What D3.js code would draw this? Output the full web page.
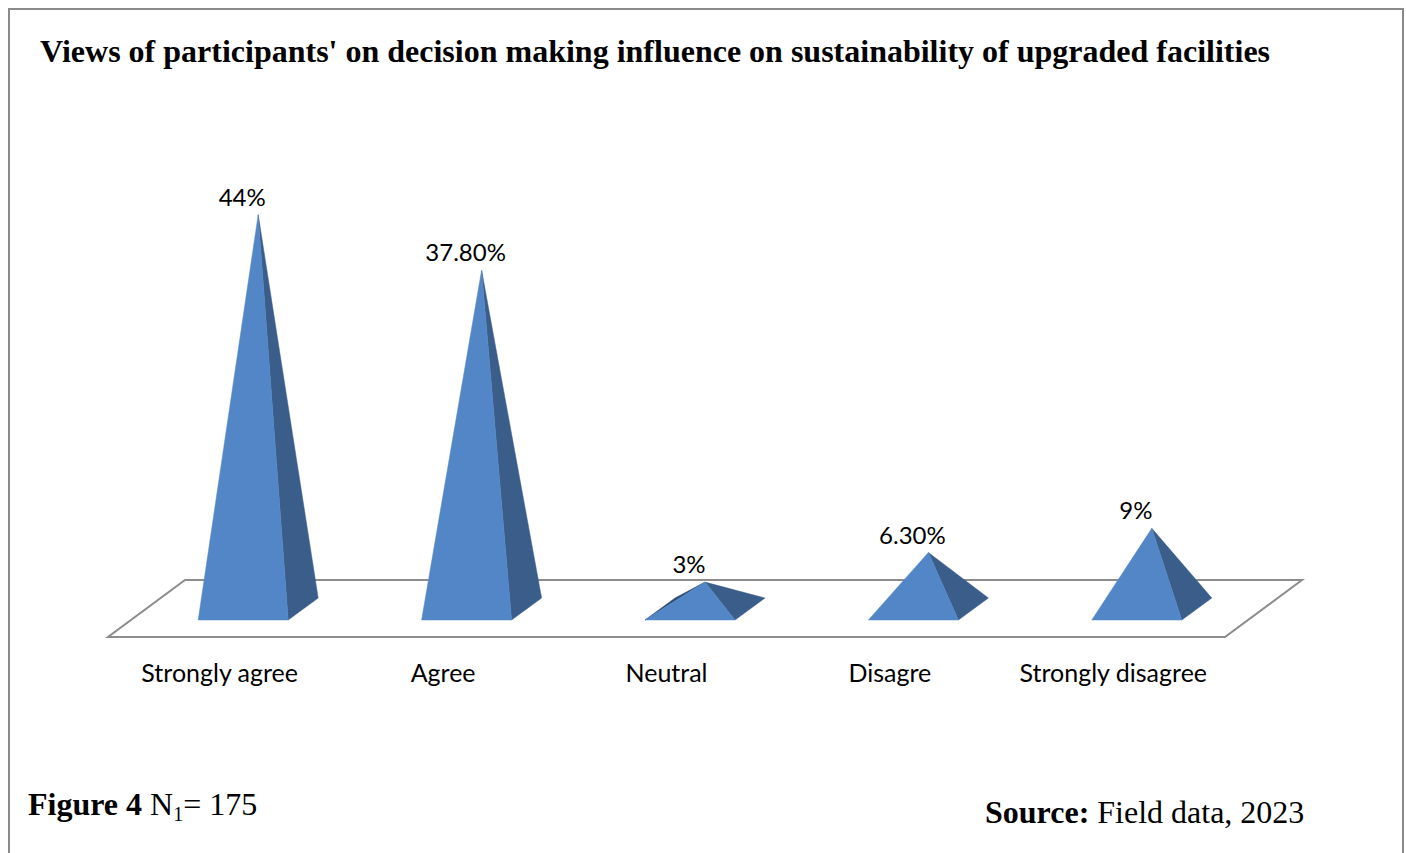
<!DOCTYPE html>
<html>
<head>
<meta charset="utf-8">
<script src="https://cdn.jsdelivr.net/npm/d3@7"></script>
<style>
  html, body { margin: 0; padding: 0; background: #fff; }
  svg { display: block; }
</style>
</head>
<body>
<svg id="chart" width="1406" height="853"></svg>
<script>
// Survey responses (percent of participants)
const categories = ["Strongly agree", "Agree", "Neutral", "Disagre", "Strongly disagree"];
const values = [44, 37.8, 3, 6.3, 9];
const valueLabels = ["44%", "37.80%", "3%", "6.30%", "9%"];

const titleText = "Views of participants' on decision making influence on sustainability of upgraded facilities";

const svg = d3.select("#chart");
const W = 1406, H = 853;

// Outer frame (bottom edge runs off the page)
svg.append("path")
  .attr("d", `M9,${H + 5} L9,9 L1403,9 L1403,${H + 5}`)
  .attr("fill", "none")
  .attr("stroke", "#8a8a8a")
  .attr("stroke-width", 2);

// Title
svg.append("text")
  .attr("x", 40).attr("y", 62)
  .attr("font-family", "'Liberation Serif', 'Times New Roman', serif")
  .attr("font-weight", "bold")
  .attr("font-size", 32)
  .attr("fill", "#000")
  .text(titleText);

// Floor geometry: front edge and depth offset of the 3D plane
const floorFrontY = 637;
const floorX0 = 108, floorX1 = 1225;
const depthDX = 77, depthDY = -57;

const x = d3.scaleBand().domain(categories).range([floorX0, floorX1]);

// Pyramid bases sit at mid-depth of the floor
const baseCY = 609;
const y = d3.scaleLinear().domain([0, 50]).range([baseCY, baseCY - 448]);

// Floor plane
svg.append("path")
  .attr("d", `M${floorX0},${floorFrontY} L${floorX1},${floorFrontY} L${floorX1 + depthDX},${floorFrontY + depthDY} L${floorX0 + depthDX},${floorFrontY + depthDY} Z`)
  .attr("fill", "#fff")
  .attr("stroke", "#8c8c8c")
  .attr("stroke-width", 2);

// Pyramid half extents on screen (width and depth)
const halfW = 45, halfDX = 15, halfDY = 11;

const colors = { front: "#5386c6", right: "#3a5d89", left: "#2f4d74", back: "#3a5d89" };

const g = svg.append("g");

categories.forEach((cat, i) => {
  const cx = x(cat) + x.bandwidth() / 2 + depthDX / 2;
  const cy = baseCY;
  const apex = [cx, y(values[i])];
  const FL = [cx - halfW - halfDX, cy + halfDY];
  const FR = [cx + halfW - halfDX, cy + halfDY];
  const BR = [cx + halfW + halfDX, cy - halfDY];
  const BL = [cx - halfW + halfDX, cy - halfDY];
  const faces = [
    { pts: [BR, BL, apex], c: colors.back },
    { pts: [BL, FL, apex], c: colors.left },
    { pts: [FR, BR, apex], c: colors.right },
    { pts: [FL, FR, apex], c: colors.front }
  ];
  faces.forEach(f => {
    const [a, b, p] = f.pts;
    const cross = (b[0] - a[0]) * (p[1] - a[1]) - (b[1] - a[1]) * (p[0] - a[0]);
    if (cross < 0) {
      g.append("path")
        .attr("d", d3.line()(f.pts) + "Z")
        .attr("fill", f.c)
        .attr("stroke", f.c)
        .attr("stroke-width", 0.5)
        .attr("stroke-linejoin", "round");
    }
  });

  // Value label above the apex
  svg.append("text")
    .attr("x", cx - 16)
    .attr("y", y(values[i]) - 9)
    .attr("text-anchor", "middle")
    .attr("font-family", "Lato, 'Open Sans', sans-serif")
    .attr("font-size", 24)
    .attr("fill", "#000")
    .text(valueLabels[i]);

  // Category label under the floor
  svg.append("text")
    .attr("x", x(cat) + x.bandwidth() / 2)
    .attr("y", 682)
    .attr("text-anchor", "middle")
    .attr("font-family", "Lato, 'Open Sans', sans-serif")
    .attr("font-size", 25)
    .attr("fill", "#000")
    .text(cat);
});

// Figure caption
const cap = svg.append("text")
  .attr("x", 28).attr("y", 815)
  .attr("font-family", "'Liberation Serif', 'Times New Roman', serif")
  .attr("font-size", 32)
  .attr("fill", "#000");
cap.append("tspan").attr("font-weight", "bold").text("Figure 4 ");
cap.append("tspan").text("N");
cap.append("tspan").attr("font-size", 20).attr("dy", 6).text("1");
cap.append("tspan").attr("dy", -6).text("= 175");

// Source note
const src = svg.append("text")
  .attr("x", 985).attr("y", 823)
  .attr("font-family", "'Liberation Serif', 'Times New Roman', serif")
  .attr("font-size", 32)
  .attr("fill", "#000");
src.append("tspan").attr("font-weight", "bold").text("Source:");
src.append("tspan").text(" Field data, 2023");
</script>
</body>
</html>
